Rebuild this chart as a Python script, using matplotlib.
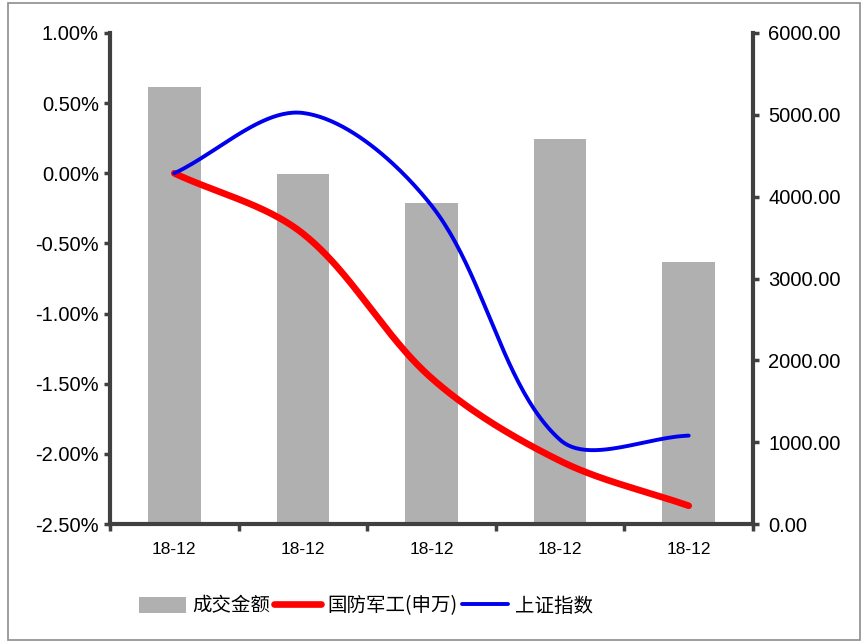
import numpy as np
import matplotlib
matplotlib.use('Agg')
import matplotlib.pyplot as plt
from matplotlib.patches import Rectangle

plt.rcParams['font.family'] = ['Liberation Sans', 'Noto Sans CJK SC', 'DejaVu Sans']

categories = ['18-12', '18-12', '18-12', '18-12', '18-12']
amount = [5340, 4280, 3920, 4710, 3200]           # 成交金额 (right axis)
defense = [0.0, -0.43, -1.46, -2.05, -2.37]       # 国防军工(申万), %
shanghai = [0.0, 0.43, -0.23, -1.90, -1.87]       # 上证指数, %


def smooth(ax, xs, ys, n=50):
    # excel-like smoothed line, worked out in screen pixels
    tr = ax.transData
    p = tr.transform(np.column_stack([xs, ys]))
    p = np.vstack([p[:1], p, p[-1:]])
    d = np.linalg.norm(np.diff(p, axis=0), axis=1)
    t = np.linspace(0, 1, n)[:, None]
    out = []
    for i in range(1, len(p) - 2):
        p0, p3 = p[i], p[i + 1]
        c1 = p0 + (p[i + 1] - p[i - 1]) * d[i] / (3 * (d[i - 1] + d[i]))
        c2 = p3 - (p[i + 2] - p[i]) * d[i] / (3 * (d[i] + d[i + 1]))
        out.append((1 - t) ** 3 * p0 + 3 * (1 - t) ** 2 * t * c1 + 3 * (1 - t) * t ** 2 * c2 + t ** 3 * p3)
    out = tr.inverted().transform(np.vstack(out))
    return out[:, 0], out[:, 1]


fig = plt.figure(figsize=(8.64, 6.42), dpi=100)
fig.patches.append(Rectangle((8 / 864, 2 / 642), 852 / 864, 637 / 642, transform=fig.transFigure,
                             fill=False, edgecolor='#8c8c8c', linewidth=1.2))

ax = fig.add_axes([110 / 864, 1 - 524 / 642, 643 / 864, 491 / 642])
ax2 = ax.twinx()
x = np.arange(len(categories))

ax2.bar(x, amount, width=0.41, color='#b0b0b0', zorder=1, label='成交金额')
ax2.set_ylim(0, 6000)
ax2.set_yticks(np.arange(0, 6001, 1000))
ax2.set_yticklabels([f'{v:.2f}' for v in np.arange(0, 6001, 1000)])

ax.set_zorder(ax2.get_zorder() + 1)
ax.patch.set_visible(False)
ax.set_ylim(-2.5, 1.0)
ax.set_xlim(-0.5, len(categories) - 0.5)
sx, sy = smooth(ax, x, defense)
ax.plot(sx, sy, color='#ff0000', linewidth=4.8, solid_capstyle='round', label='国防军工(申万)')
sx, sy = smooth(ax, x, shanghai)
ax.plot(sx, sy, color='#0000ee', linewidth=2.8, solid_capstyle='round', label='上证指数')
ax.set_yticks(np.arange(-2.5, 1.01, 0.5))
ax.set_yticklabels([f'{v:.2f}%' for v in np.arange(-2.5, 1.01, 0.5)])
ax.set_xticks(np.arange(-0.5, len(categories)))
ax.set_xticklabels([])
ax.set_xticks(x, minor=True)
ax.set_xticklabels(categories, minor=True)
ax.tick_params(axis='x', which='minor', length=0, pad=13, labelsize=12.5)
ax.tick_params(axis='x', which='major', length=5, width=2.5, color='#404040')
ax.tick_params(axis='y', length=4, width=2.5, color='#404040', labelsize=14.5, pad=4)
ax2.tick_params(axis='y', length=4, width=2.5, color='#404040', labelsize=14.5, pad=7)

for a in (ax, ax2):
    for s in a.spines.values():
        s.set_visible(False)
    a.spines['left'].set_visible(a is ax)
    a.spines['right'].set_visible(a is ax2)
    a.spines['bottom'].set_visible(a is ax)
    for s in ('left', 'right', 'bottom'):
        a.spines[s].set_color('#404040')
        a.spines[s].set_linewidth(3)

h1, l1 = ax2.get_legend_handles_labels()
h2, l2 = ax.get_legend_handles_labels()
fig.legend(h1 + h2, l1 + l2, loc='center', bbox_to_anchor=(366 / 864, 1 - 606 / 642), ncol=3,
           frameon=False, handlelength=2.4, handleheight=0.9, handletextpad=0.35, columnspacing=0.2,
           prop={'family': ['Noto Sans CJK SC', 'DejaVu Sans'], 'size': 14})

fig.savefig('out.png', dpi=100)
